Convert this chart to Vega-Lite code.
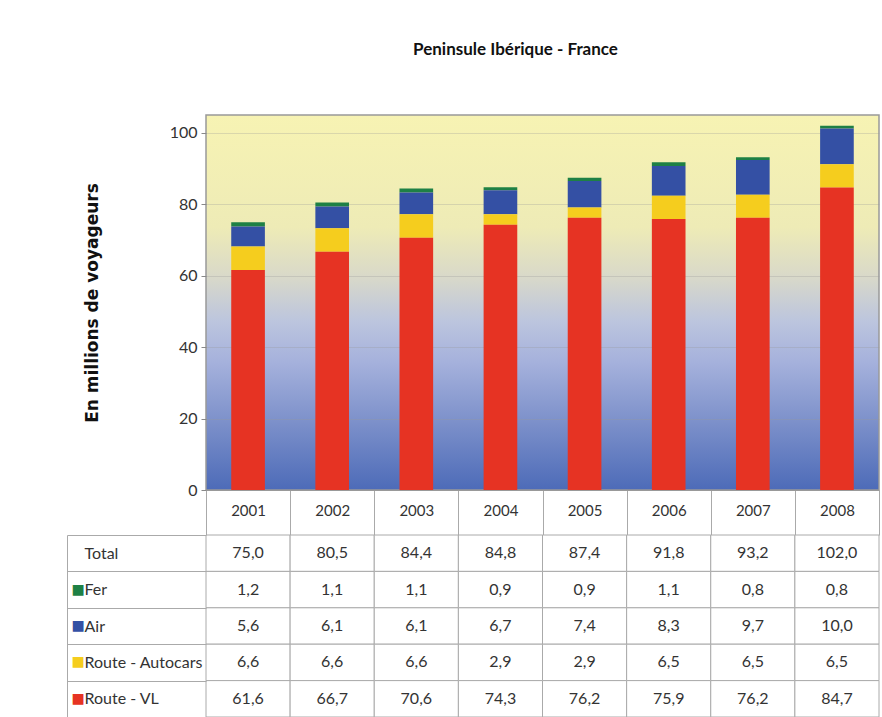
{
  "$schema": "https://vega.github.io/schema/vega-lite/v6.json",
  "padding": {"left": 66, "top": 40, "right": 0, "bottom": 0},
  "background": "white",
  "spacing": 45,
  "bounds": "flush",
  "datasets": {
    "t": [
      {"year": "2001", "mode": "Total", "value": 75.0},
      {"year": "2001", "mode": "Fer", "value": 1.2},
      {"year": "2001", "mode": "Air", "value": 5.6},
      {"year": "2001", "mode": "Route - Autocars", "value": 6.6},
      {"year": "2001", "mode": "Route - VL", "value": 61.6},
      {"year": "2002", "mode": "Total", "value": 80.5},
      {"year": "2002", "mode": "Fer", "value": 1.1},
      {"year": "2002", "mode": "Air", "value": 6.1},
      {"year": "2002", "mode": "Route - Autocars", "value": 6.6},
      {"year": "2002", "mode": "Route - VL", "value": 66.7},
      {"year": "2003", "mode": "Total", "value": 84.4},
      {"year": "2003", "mode": "Fer", "value": 1.1},
      {"year": "2003", "mode": "Air", "value": 6.1},
      {"year": "2003", "mode": "Route - Autocars", "value": 6.6},
      {"year": "2003", "mode": "Route - VL", "value": 70.6},
      {"year": "2004", "mode": "Total", "value": 84.8},
      {"year": "2004", "mode": "Fer", "value": 0.9},
      {"year": "2004", "mode": "Air", "value": 6.7},
      {"year": "2004", "mode": "Route - Autocars", "value": 2.9},
      {"year": "2004", "mode": "Route - VL", "value": 74.3},
      {"year": "2005", "mode": "Total", "value": 87.4},
      {"year": "2005", "mode": "Fer", "value": 0.9},
      {"year": "2005", "mode": "Air", "value": 7.4},
      {"year": "2005", "mode": "Route - Autocars", "value": 2.9},
      {"year": "2005", "mode": "Route - VL", "value": 76.2},
      {"year": "2006", "mode": "Total", "value": 91.8},
      {"year": "2006", "mode": "Fer", "value": 1.1},
      {"year": "2006", "mode": "Air", "value": 8.3},
      {"year": "2006", "mode": "Route - Autocars", "value": 6.5},
      {"year": "2006", "mode": "Route - VL", "value": 75.9},
      {"year": "2007", "mode": "Total", "value": 93.2},
      {"year": "2007", "mode": "Fer", "value": 0.8},
      {"year": "2007", "mode": "Air", "value": 9.7},
      {"year": "2007", "mode": "Route - Autocars", "value": 6.5},
      {"year": "2007", "mode": "Route - VL", "value": 76.2},
      {"year": "2008", "mode": "Total", "value": 102.0},
      {"year": "2008", "mode": "Fer", "value": 0.8},
      {"year": "2008", "mode": "Air", "value": 10.0},
      {"year": "2008", "mode": "Route - Autocars", "value": 6.5},
      {"year": "2008", "mode": "Route - VL", "value": 84.7}
    ]
  },
  "vconcat": [
    {
      "width": 673,
      "height": 375,
      "title": {"text": "Peninsule Ibérique - France", "fontSize": 17, "fontWeight": "bold", "font": "Lato", "color": "#111111", "offset": 56, "dx": -27, "anchor": "middle", "frame": "group"},
      "view": {
        "fill": {"gradient": "linear", "x1": 0, "y1": 0, "x2": 0, "y2": 1, "stops": [
          {"offset": 0, "color": "#f7f3b3"},
          {"offset": 0.3, "color": "#eeebb6"},
          {"offset": 0.43, "color": "#d9d9c9"},
          {"offset": 0.55, "color": "#bcc5de"},
          {"offset": 0.66, "color": "#a5b1dc"},
          {"offset": 0.82, "color": "#7c90ca"},
          {"offset": 1, "color": "#4d6bb8"}
        ]},
        "stroke": "#999999",
        "strokeWidth": 1.5
      },
      "data": {"name": "t"},
      "transform": [
        {"filter": "datum.mode != 'Total'"},
        {"calculate": "indexof(['Route - VL', 'Route - Autocars', 'Air', 'Fer'], datum.mode)", "as": "stackorder"}
      ],
      "mark": {"type": "bar", "width": {"band": 0.4}},
      "encoding": {
        "x": {
          "field": "year", "type": "ordinal",
          "scale": {"paddingInner": 0, "paddingOuter": 0},
          "axis": {"title": null, "labelAngle": 0, "tickBand": "extent", "tickSize": 45, "tickColor": "#aaaaaa", "domainColor": "#999999", "labelPadding": -32, "labelFontSize": 15, "labelColor": "#333333", "labelFont": "Lato"}
        },
        "y": {
          "field": "value", "type": "quantitative", "aggregate": "sum", "stack": "zero",
          "scale": {"domain": [0, 105], "nice": false},
          "axis": {"values": [0, 20, 40, 60, 80, 100], "grid": true, "gridColor": "#999999", "gridOpacity": 0.3, "domain": false, "tickColor": "#888888", "tickSize": 5, "labelPadding": 4, "labelFontSize": 16, "labelColor": "#333333", "labelFont": "Lato", "title": "En millions de voyageurs", "titleFontSize": 17, "titleFontWeight": "bold", "titleFont": "DejaVu Sans", "titleColor": "#111111", "titlePadding": 68}
        },
        "color": {
          "field": "mode", "type": "nominal",
          "scale": {"domain": ["Route - VL", "Route - Autocars", "Air", "Fer"], "range": ["#e63323", "#f5cd1e", "#3450a4", "#1e8045"]},
          "legend": null
        },
        "order": {"field": "stackorder", "type": "quantitative", "sort": "ascending"}
      }
    },
    {
      "width": 673,
      "height": 182,
      "view": {"stroke": null},
      "data": {"name": "t"},
      "encoding": {
        "x": {"field": "year", "type": "ordinal", "scale": {"paddingInner": 0, "paddingOuter": 0}, "axis": null}
      },
      "layer": [
        {
          "mark": {"type": "rect", "fill": "white", "stroke": "#aaaaaa", "strokeWidth": 1},
          "encoding": {
            "y": {"field": "mode", "type": "nominal", "sort": ["Total", "Fer", "Air", "Route - Autocars", "Route - VL"], "scale": {"paddingInner": 0, "paddingOuter": 0},
              "axis": {"title": null, "orient": "left", "domain": false, "tickBand": "extent", "tickSize": 139, "tickColor": "#aaaaaa", "labelAlign": "left", "labelPadding": -17, "labelFontSize": 16, "labelColor": "#333333", "labelFont": "Lato"}}
          }
        },
        {
          "mark": {"type": "text", "fontSize": 16, "font": "Lato", "color": "#333333"},
          "encoding": {
            "y": {"field": "mode", "type": "nominal", "sort": ["Total", "Fer", "Air", "Route - Autocars", "Route - VL"], "scale": {"paddingInner": 0, "paddingOuter": 0},
              "axis": {"title": null, "orient": "left", "offset": 139, "domain": true, "domainColor": "#aaaaaa", "ticks": false, "grid": false, "labelExpr": "datum.value == 'Total' ? '' : '■'", "labelAlign": "left", "labelPadding": -4, "labelFontSize": 14, "labelFont": "DejaVu Sans", "labelColor": {"expr": "datum.value == 'Fer' ? '#1e8045' : datum.value == 'Air' ? '#3450a4' : datum.value == 'Route - Autocars' ? '#f5cd1e' : '#e63323'"}}},
            "text": {"field": "value", "type": "quantitative", "format": ".1f"}
          }
        }
      ],
      "resolve": {"axis": {"y": "independent"}}
    }
  ],
  "config": {
    "font": "Lato",
    "locale": {"number": {"decimal": ",", "thousands": " ", "grouping": [3], "currency": ["", " €"]}}
  }
}
